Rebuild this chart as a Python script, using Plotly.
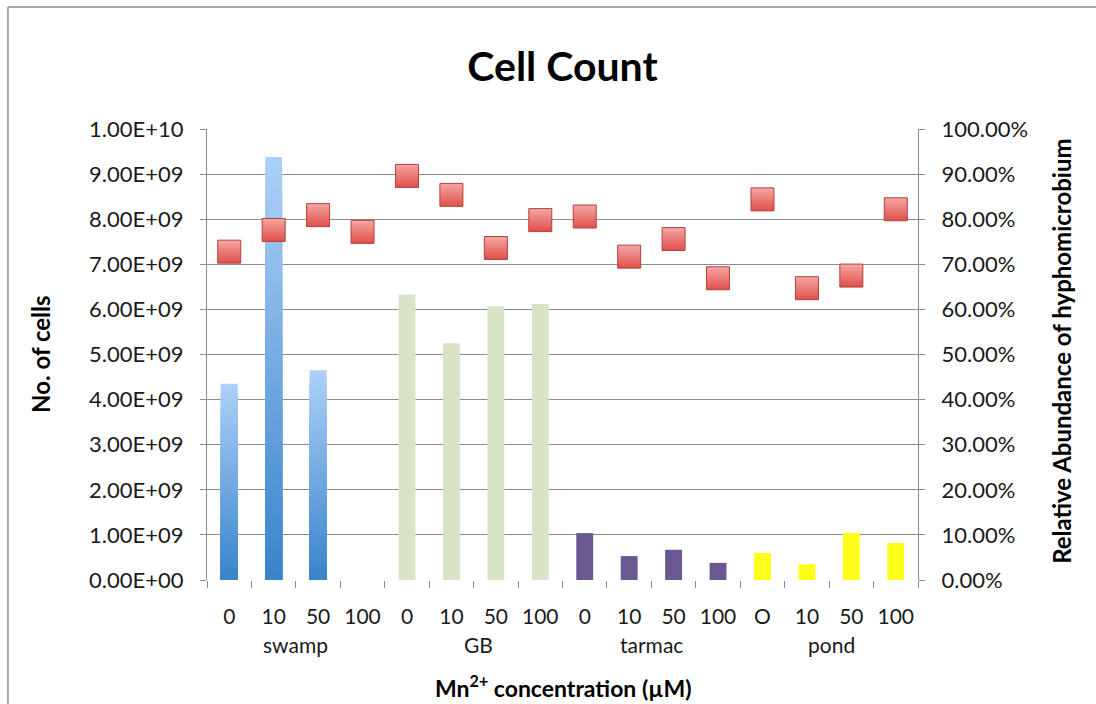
import plotly.graph_objects as go

# ---- data ----
tick_labels = ["0", "10", "50", "100", "0", "10", "50", "100",
               "0", "10", "50", "100", "O", "10", "50", "100"]
groups = ["swamp", "GB", "tarmac", "pond"]
swamp_cells = [4.35e9, 9.38e9, 4.65e9, 0.0]
gb_cells = [6.33e9, 5.25e9, 6.07e9, 6.12e9]
tarmac_cells = [1.04e9, 0.53e9, 0.67e9, 0.38e9]
pond_cells = [0.60e9, 0.35e9, 1.04e9, 0.82e9]
rel_abundance = [0.728, 0.776, 0.809, 0.772, 0.896, 0.854, 0.736, 0.798,
                 0.806, 0.717, 0.756, 0.669, 0.844, 0.647, 0.675, 0.822]
y_tick_vals = [0, 1e9, 2e9, 3e9, 4e9, 5e9, 6e9, 7e9, 8e9, 9e9, 1e10]
y_tick_text = ["0.00E+00", "1.00E+09", "2.00E+09", "3.00E+09", "4.00E+09", "5.00E+09",
               "6.00E+09", "7.00E+09", "8.00E+09", "9.00E+09", "1.00E+10"]

FONT = "Lato"
x_all = list(range(len(tick_labels)))
bw = 0.38

fig = go.Figure()

def lerp(c1, c2, t):
    a = [int(c1[i:i + 2], 16) for i in (1, 3, 5)]
    b = [int(c2[i:i + 2], 16) for i in (1, 3, 5)]
    return "rgb(%d,%d,%d)" % tuple(round(a[i] + (b[i] - a[i]) * t) for i in range(3))

# swamp bars with vertical gradient (overlays of decreasing height)
N = 40
sx = x_all[0:4]
for k in range(N):
    f = 1 - k / N
    fig.add_trace(go.Bar(x=sx, y=[v * f for v in swamp_cells], width=bw,
                         marker=dict(color=lerp("#acd0f7", "#3a84cc", k / (N - 1)), line=dict(width=0)),
                         showlegend=False, hoverinfo="skip"))

fig.add_trace(go.Bar(x=x_all[4:8], y=gb_cells, width=bw,
                     marker=dict(color="#d9e4c6", line=dict(width=0)), showlegend=False))
fig.add_trace(go.Bar(x=x_all[8:12], y=tarmac_cells, width=bw,
                     marker=dict(color="#6a5890", line=dict(width=0)), showlegend=False))
fig.add_trace(go.Bar(x=x_all[12:16], y=pond_cells, width=bw,
                     marker=dict(color="#ffff1a", line=dict(width=0)), showlegend=False))

fig.add_trace(go.Scatter(x=x_all, y=rel_abundance, mode="markers", yaxis="y2",
                         marker=dict(symbol="square", size=23, color="#f5a7a3",
                                     gradient=dict(type="vertical", color="#e04f4b"),
                                     line=dict(color="#b3403b", width=1)),
                         showlegend=False))

grid = "#8c8c8c"
fig.update_layout(
    width=1096, height=704,
    margin=dict(l=207, r=178, t=129, b=124),
    paper_bgcolor="white", plot_bgcolor="white",
    barmode="overlay",
    font=dict(family=FONT, size=22, color="#1a1a1a"),
    title=dict(text="<b>Cell Count</b>", xref="paper", x=0.5, xanchor="center",
               y=0.905, yanchor="middle",
               font=dict(family=FONT, size=41, color="black")),
    xaxis=dict(range=[-0.5, 15.5], tickvals=x_all, ticktext=tick_labels, ticks="",
               showgrid=False, zeroline=False, showline=False,
               tickfont=dict(size=21), ticklabelstandoff=22,
               minor=dict(tickvals=[i - 0.5 for i in range(17)], ticks="outside",
                          ticklen=7, tickcolor=grid, showgrid=False)),
    yaxis=dict(range=[0, 1e10], tickvals=y_tick_vals, ticktext=y_tick_text,
               showgrid=True, gridcolor=grid, ticklabelstandoff=12,
               gridwidth=1.3, showline=True, linecolor=grid, linewidth=1.3, ticks="outside",
               ticklen=6, tickcolor=grid, zeroline=False, tickfont=dict(size=22)),
    yaxis2=dict(range=[0, 1], dtick=0.1, tickformat=".2%", overlaying="y", side="right",
                showgrid=False, showline=True, linecolor=grid, linewidth=1.3, ticks="outside",
                ticklabelstandoff=12,
                ticklen=6, tickcolor=grid, zeroline=False, tickfont=dict(size=22)),
)

# group labels
group_pos = [1.5, 5.6, 9.5, 13.55]
for g, p in zip(groups, group_pos):
    fig.add_annotation(x=p, y=-0.144, xref="x", yref="paper", text=g, showarrow=False,
                       font=dict(size=21), xanchor="center", yanchor="middle")

fig.add_annotation(x=0.5, y=-0.237, xref="paper", yref="paper",
                   text="<b>Mn<sup>2+</sup> concentration (µM)</b>", showarrow=False,
                   font=dict(size=23, color="black"), xanchor="center", yanchor="middle")
fig.add_annotation(x=-0.235, y=0.501, xref="paper", yref="paper", text="<b>No. of cells</b>",
                   textangle=-90, showarrow=False, xanchor="center", yanchor="middle",
                   font=dict(size=24, color="black"))
fig.add_annotation(x=1.2025, y=0.508, xref="paper", yref="paper",
                   text="<b>Relative Abundance of hyphomicrobium</b>",
                   textangle=-90, showarrow=False, xanchor="center", yanchor="middle",
                   font=dict(size=24, color="black"))

# outer chart frame (top and left edges)
fig.add_shape(type="line", xref="paper", yref="paper", x0=-0.28, x1=1.26, y0=1.2705, y1=1.2705,
              line=dict(color="#a6a6a6", width=2))
fig.add_shape(type="line", xref="paper", yref="paper", x0=-0.28, x1=-0.28, y0=-0.28, y1=1.2705,
              line=dict(color="#a6a6a6", width=2))

fig.write_html("out.html")
